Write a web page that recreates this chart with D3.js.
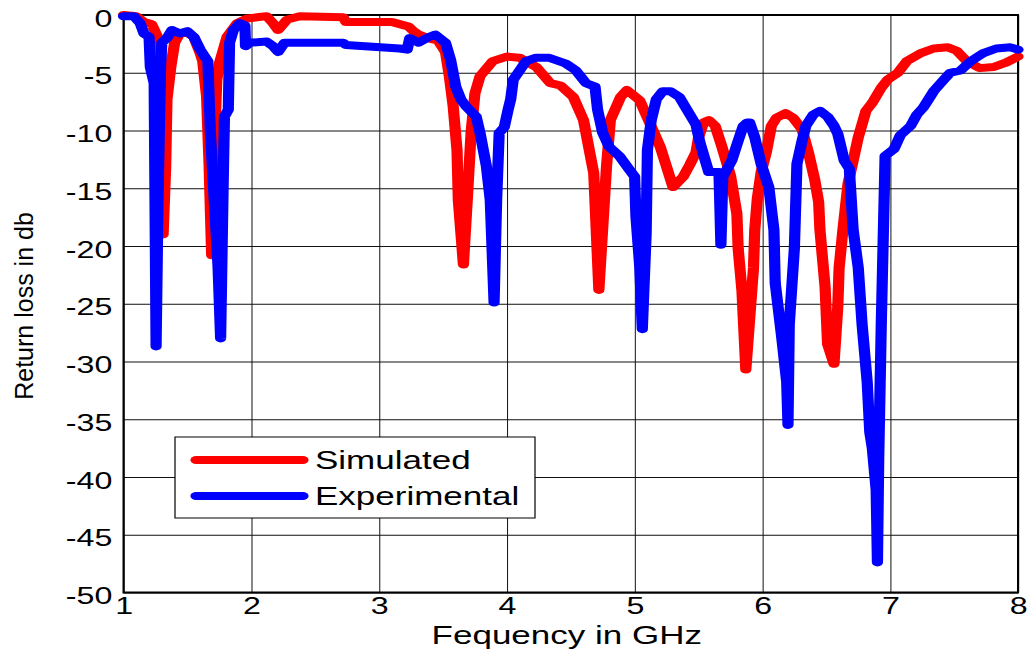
<!DOCTYPE html>
<html>
<head>
<meta charset="utf-8">
<script src="https://cdn.jsdelivr.net/npm/d3@7"></script>
<style>
  html, body { margin: 0; padding: 0; background: #fff; }
  svg { display: block; }
  text { font-family: "Liberation Sans", Arial, sans-serif; fill: #000; }
</style>
</head>
<body>
<svg id="chart" width="1027" height="663"></svg>
<script>
// ---- data ----
const xTicks = [1, 2, 3, 4, 5, 6, 7, 8];
const yTicks = [0, -5, -10, -15, -20, -25, -30, -35, -40, -45, -50];
const seriesNames = ["Simulated", "Experimental"];
const seriesColors = ["#ff0000", "#0000ff"];

const simFreq = [1.00,1.10,1.16,1.22,1.25,1.29,1.30,1.31,1.33,1.34,1.37,1.40,1.44,1.50,1.55,1.60,1.62,1.65,1.67,1.69,1.71,1.73,1.75,1.81,1.89,1.97,2.12,2.17,2.21,2.28,2.38,2.72,2.74,3.10,3.23,3.27,3.31,3.38,3.46,3.52,3.55,3.58,3.61,3.62,3.66,3.69,3.72,3.75,3.79,3.89,4.00,4.10,4.23,4.34,4.42,4.52,4.60,4.68,4.72,4.78,4.81,4.89,4.94,5.04,5.12,5.20,5.30,5.38,5.43,5.48,5.50,5.54,5.58,5.63,5.68,5.75,5.80,5.81,5.84,5.87,5.93,5.94,5.96,5.99,6.03,6.07,6.11,6.18,6.24,6.31,6.36,6.41,6.44,6.45,6.49,6.51,6.56,6.59,6.60,6.63,6.67,6.71,6.75,6.81,6.86,6.93,6.98,7.06,7.13,7.24,7.34,7.45,7.52,7.60,7.70,7.81,7.91,8.00];
const simDb = [0,-0.1,-0.6,-0.8,-1.5,-2.5,-10,-19.0,-13.1,-7.3,-4.5,-2.4,-1.6,-1.5,-1.9,-3.3,-4,-7,-13,-20.8,-11.7,-5.6,-4.2,-1.9,-0.7,-0.3,-0.1,-0.7,-1.3,-0.4,-0.1,-0.2,-0.6,-0.6,-1.0,-1.4,-1.7,-2.0,-2.2,-3.2,-5.3,-7.9,-11.7,-16,-21.6,-16,-10.2,-6.8,-5.3,-4.0,-3.6,-3.7,-4.5,-5.9,-6.1,-7.1,-9.1,-13.7,-23.8,-13.1,-9.1,-7.1,-6.5,-7.4,-9.4,-11.4,-14.9,-14.0,-13.0,-11.9,-10.6,-9.3,-9.1,-9.6,-11.3,-13.9,-17.2,-20.2,-23.9,-30.7,-21.9,-18.6,-15.9,-13.6,-11.9,-9.6,-8.9,-8.5,-8.9,-9.9,-11.9,-14.3,-16.2,-18.6,-23.5,-28.5,-30.2,-25.2,-21.9,-18.6,-14.6,-12.6,-10.6,-8.3,-7.6,-6.3,-5.6,-5.0,-4.0,-3.3,-2.9,-2.8,-3.1,-4.0,-4.6,-4.5,-4.1,-3.6];

const expFreq = [1.00,1.08,1.13,1.16,1.20,1.21,1.24,1.255,1.27,1.29,1.30,1.34,1.38,1.44,1.50,1.55,1.60,1.66,1.68,1.71,1.74,1.76,1.78,1.79,1.82,1.83,1.86,1.91,1.95,1.955,1.99,2.12,2.17,2.21,2.26,2.72,2.74,3.16,3.22,3.24,3.31,3.39,3.44,3.52,3.56,3.60,3.64,3.68,3.76,3.79,3.84,3.87,3.90,3.92,3.94,3.98,4.01,4.03,4.05,4.10,4.15,4.23,4.33,4.46,4.54,4.62,4.69,4.71,4.75,4.80,4.88,4.96,5.00,5.01,5.04,5.06,5.09,5.10,5.13,5.17,5.22,5.28,5.35,5.42,5.48,5.51,5.55,5.58,5.66,5.675,5.69,5.76,5.81,5.85,5.88,5.90,5.94,5.99,6.05,6.09,6.10,6.15,6.19,6.20,6.21,6.25,6.27,6.31,6.34,6.40,6.45,6.51,6.56,6.59,6.64,6.68,6.71,6.75,6.78,6.82,6.84,6.86,6.89,6.90,6.91,6.93,6.94,6.96,7.03,7.08,7.16,7.21,7.26,7.34,7.42,7.47,7.55,7.63,7.73,7.83,7.94,8.00];
const expDb = [-0.1,-0.1,-0.7,-1.6,-1.9,-4.5,-5.9,-28.7,-16,-4.5,-2.4,-2.0,-1.3,-1.6,-1.4,-1.9,-3.0,-4.0,-10.2,-16,-21.8,-28.0,-14.6,-8.8,-8.2,-2.4,-1.3,-0.7,-0.9,-2.7,-2.4,-2.3,-2.7,-3.2,-2.4,-2.4,-2.6,-2.9,-3.0,-2.0,-2.4,-1.9,-1.7,-2.4,-3.9,-6.2,-7.3,-7.9,-8.8,-10.2,-13.1,-16,-24.9,-16,-10.2,-9.7,-8.2,-7.3,-5.6,-4.8,-4.0,-3.7,-3.7,-4.2,-4.8,-5.9,-6.2,-8.2,-10.2,-11.4,-12.2,-13.4,-14.0,-17.4,-21.8,-27.2,-18.9,-11.7,-9.1,-7.3,-6.6,-6.6,-7.1,-8.4,-9.5,-11.0,-12.5,-13.6,-13.6,-19.9,-14.0,-12.6,-10.9,-9.6,-9.3,-9.3,-10.6,-12.9,-14.9,-18.6,-23.2,-27.8,-31.8,-35.5,-26.8,-20.2,-12.9,-10.9,-9.6,-8.6,-8.3,-8.8,-9.6,-10.3,-12.6,-13.3,-18.6,-21.9,-26.8,-31.8,-36.1,-37.5,-41.1,-47.4,-38.4,-26.8,-21.9,-12.2,-11.6,-10.4,-9.6,-8.6,-8.0,-6.6,-5.6,-5.0,-4.8,-4.0,-3.3,-2.9,-2.8,-3.0];

// ---- layout ----
const K = 1.4;               // horizontal stretch of the reference picture
const L = 123.5, R = 1018, T = 15, B = 592.5;

const svg = d3.select("#chart");
svg.append("rect").attr("width", 1027).attr("height", 663).attr("fill", "#fff");

const g = svg.append("g").attr("transform", `scale(${K},1)`);

const x = d3.scaleLinear().domain([1, 8]).range([L / K, R / K]);
const y = d3.scaleLinear().domain([-50, 0]).range([B, T]);

const fmt = d => String(d);   // plain hyphen-minus as in the reference

// grid + tick labels via axes
const xAxis = g.append("g").attr("transform", `translate(0,${B})`)
  .call(d3.axisBottom(x).tickValues(xTicks).tickFormat(fmt)
    .tickSize(-(B - T)).tickPadding(5));
const yAxis = g.append("g").attr("transform", `translate(${L / K},0)`)
  .call(d3.axisLeft(y).tickValues(yTicks).tickFormat(fmt)
    .tickSize(-(R - L) / K).tickPadding(8));

[xAxis, yAxis].forEach(a => {
  a.select(".domain").remove();
  a.selectAll(".tick line").attr("stroke", "#111").attr("stroke-width", 1)
    .attr("vector-effect", "non-scaling-stroke");
  a.selectAll(".tick text").attr("font-size", 23)
    .attr("font-family", "Liberation Sans, Arial, sans-serif").attr("fill", "#000");
});
xAxis.selectAll(".tick text").attr("dy", "0.71em");
yAxis.selectAll(".tick text").attr("dy", "0.48em");

// plot frame
g.append("rect")
  .attr("x", x(1)).attr("y", y(0))
  .attr("width", x(8) - x(1)).attr("height", y(-50) - y(0))
  .attr("fill", "none").attr("stroke", "#000").attr("stroke-width", 2)
  .attr("vector-effect", "non-scaling-stroke");

// curves
const line = d3.line().x(d => x(d[0])).y(d => y(d[1])).curve(d3.curveLinear);
const series = [
  d3.zip(simFreq, simDb),
  d3.zip(expFreq, expDb)
];
series.forEach((pts, i) => {
  g.append("path").datum(pts)
    .attr("d", line)
    .attr("fill", "none")
    .attr("stroke", seriesColors[i])
    .attr("stroke-width", 8)
    .attr("stroke-linejoin", "round")
    .attr("stroke-linecap", "round");
});

// legend
const lg = g.append("g");
lg.append("rect")
  .attr("x", 175 / K).attr("y", 437)
  .attr("width", (535 - 175) / K).attr("height", 81)
  .attr("fill", "#fff").attr("stroke", "#000").attr("stroke-width", 1.2)
  .attr("vector-effect", "non-scaling-stroke");
seriesNames.forEach((name, i) => {
  const cy = 460 + i * 36;
  lg.append("line")
    .attr("x1", 196 / K).attr("x2", 303 / K)
    .attr("y1", cy).attr("y2", cy)
    .attr("stroke", seriesColors[i]).attr("stroke-width", 8)
    .attr("stroke-linecap", "round");
  lg.append("text")
    .attr("x", 315 / K).attr("y", cy + 9)
    .attr("font-size", 25)
    .text(name);
});

// x axis title
g.append("text")
  .attr("x", ((L + R) / 2 - 4) / K).attr("y", 644)
  .attr("text-anchor", "middle").attr("font-size", 25)
  .text("Fequency in GHz");

// y axis title (outside the stretched group)
svg.append("text")
  .attr("transform", "translate(33,306) rotate(-90)")
  .attr("text-anchor", "middle").attr("font-size", 25)
  .text("Return loss in db");
</script>
</body>
</html>
